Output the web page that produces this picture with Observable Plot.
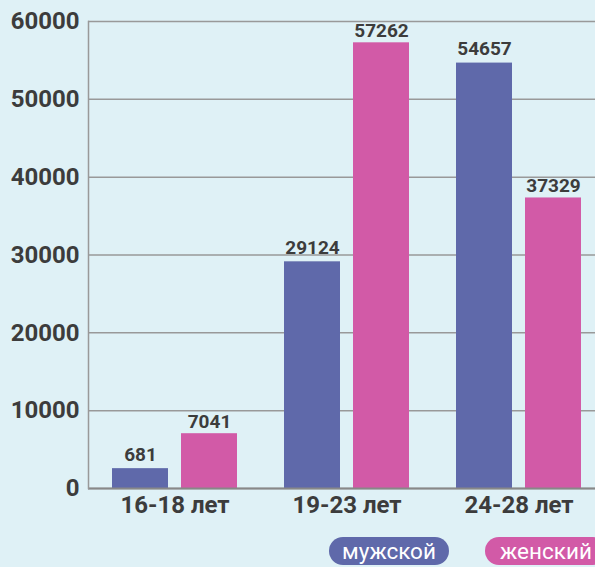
<!DOCTYPE html>
<html><head><meta charset="utf-8">
<script src="https://cdn.jsdelivr.net/npm/d3@7"></script>
<script src="https://cdn.jsdelivr.net/npm/@observablehq/plot@0.6"></script>
<style>
html,body{margin:0;padding:0;background:#dff1f6;}
body{width:595px;height:567px;overflow:hidden;position:relative;font-family:Roboto,sans-serif;}
#legend{position:absolute;left:0;top:0;width:595px;height:567px;pointer-events:none;}
.pill{position:absolute;top:537px;height:28px;border-radius:14px;color:#fff;font-size:22.5px;line-height:28px;text-align:center;white-space:nowrap;}
</style></head>
<body>
<div id="chart"></div>
<div id="legend"></div>
<script>
const groups = ["16-18 лет", "19-23 лет", "24-28 лет"];
const male = [681, 29124, 54657];
const female = [7041, 57262, 37329];
const seriesNames = ["мужской", "женский"];
const colors = ["#5f69aa", "#d25aa7"];
const yTicks = [0, 10000, 20000, 30000, 40000, 50000, 60000];
const minVisible = 2550; // minimum drawn bar height as in the source

const maleData = groups.map((g, i) => ({group: g, value: male[i]}));
const femaleData = groups.map((g, i) => ({group: g, value: female[i]}));
const drawn = d => Math.max(d.value, minVisible);

const chart = Plot.plot({
  width: 595,
  height: 522,
  marginLeft: 88,
  marginRight: 0,
  marginTop: 21,
  marginBottom: 34,
  style: {background: "transparent", fontFamily: "Roboto, sans-serif", color: "#3c3c3c"},
  x: {domain: groups, range: [88, 605], paddingInner: 0.2733, paddingOuter: 0.1395, label: null},
  y: {domain: [0, 60000], label: null},
  marks: [
    Plot.gridY(yTicks, {stroke: "#999", strokeOpacity: 1, strokeWidth: 1.5}),
    Plot.barY(maleData, {x: "group", y: drawn, fill: colors[0], insetRight: 69, insetLeft: 0}),
    Plot.barY(femaleData, {x: "group", y: drawn, fill: colors[1], insetLeft: 69, insetRight: 0}),
    Plot.ruleY([0], {stroke: "#888", strokeWidth: 2}),
    Plot.frame({anchor: "left", stroke: "#999", strokeWidth: 1.5}),
    Plot.text(maleData, {x: "group", y: drawn, text: d => String(d.value), dx: -34.5, lineAnchor: "bottom", dy: -8, fontSize: 19, fontWeight: "bold", fill: "#3c3c3c"}),
    Plot.text(femaleData, {x: "group", y: drawn, text: d => String(d.value), dx: 34.5, lineAnchor: "bottom", dy: -6, fontSize: 19, fontWeight: "bold", fill: "#3c3c3c"}),
    Plot.axisY(yTicks, {tickSize: 0, tickPadding: 9, tickFormat: d => String(d), fontSize: 24, fontWeight: "bold", fill: "#3c3c3c", label: null}),
    Plot.axisX({tickSize: 0, tickPadding: 7, fontSize: 24, fontWeight: "bold", fill: "#3c3c3c", label: null})
  ]
});
document.getElementById("chart").appendChild(chart);

const legend = document.getElementById("legend");
const pillPos = [{left: 329, width: 120}, {left: 485, width: 122}];
seriesNames.forEach((n, i) => {
  const s = document.createElement("div");
  s.className = "pill";
  s.style.left = pillPos[i].left + "px";
  s.style.width = pillPos[i].width + "px";
  s.style.background = colors[i];
  s.textContent = n;
  legend.appendChild(s);
});
</script>
</body></html>
